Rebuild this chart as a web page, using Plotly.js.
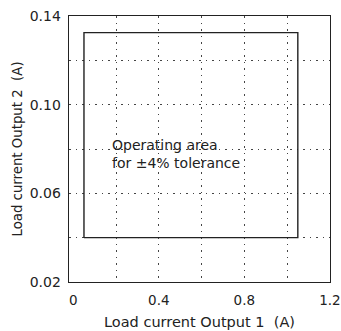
<!DOCTYPE html>
<html>
<head>
<meta charset="utf-8">
<script src="https://cdn.plot.ly/plotly-3.0.1.min.js"></script>
<style>html,body{margin:0;padding:0;background:#fff;}#chart{width:341px;height:331px;}</style>
</head>
<body>
<div id="chart"></div>
<script>
// Operating area boundary (Output 1 current, Output 2 current)
const areaX = [0.05, 1.05, 1.05, 0.05, 0.05];
const areaY = [0.04, 0.04, 0.1325, 0.1325, 0.04];
const xTickVals = [0, 0.2, 0.4, 0.6, 0.8, 1.0, 1.2];
const xTickText = ['0', '', '0.4', '', '0.8', '', '1.2'];
const yTickVals = [0.02, 0.04, 0.06, 0.08, 0.10, 0.12, 0.14];
const yTickText = ['0.02', '', '0.06', '', '0.10', '', '0.14'];
const labelText = 'Operating area<br>for ±4% tolerance';
const labelPos = {x: 0.17, y: 0.0778};

const font = 'DejaVu Sans, sans-serif';
const ink = '#222';

const trace = {
  x: areaX, y: areaY, type: 'scatter', mode: 'lines',
  line: {color: ink, width: 1.4}, hoverinfo: 'skip', showlegend: false
};

const layout = {
  width: 341, height: 331,
  margin: {l: 69, r: 11, t: 16, b: 49},
  paper_bgcolor: '#fff', plot_bgcolor: '#fff',
  font: {family: font, color: ink, size: 14},
  xaxis: {
    range: [-0.02, 1.2005], tickvals: xTickVals, ticktext: xTickText,
    showgrid: true, gridcolor: '#444', gridwidth: 1, griddash: '1.5px,5px',
    zeroline: true, zerolinecolor: 'rgba(0,0,0,0)', zerolinewidth: 1,
    showline: true, linecolor: ink, linewidth: 1.4, mirror: true,
    ticks: '', ticklabelstandoff: 5, ticklabeloverflow: 'allow',
    tickfont: {family: font, size: 13.5, color: ink},
    title: {text: 'Load current Output 1  (A)', font: {family: font, size: 14.5, color: ink}, standoff: 10},
    automargin: false, fixedrange: true
  },
  yaxis: {
    range: [0.02, 0.14], tickvals: yTickVals, ticktext: yTickText,
    showgrid: true, gridcolor: '#444', gridwidth: 1, griddash: '1.5px,5px',
    zeroline: false,
    showline: true, linecolor: ink, linewidth: 1.4, mirror: true,
    ticks: '', ticklabelstandoff: 4, ticklabeloverflow: 'allow',
    tickfont: {family: font, size: 14, color: ink},
    title: {text: 'Load current Output 2  (A)', font: {family: font, size: 13.3, color: ink}, standoff: 4},
    automargin: false, fixedrange: true
  },
  annotations: [{
    x: labelPos.x, y: labelPos.y, xref: 'x', yref: 'y', text: labelText,
    showarrow: false, xanchor: 'left', yanchor: 'middle', align: 'left',
    font: {family: font, size: 14, color: ink}
  }]
};

Plotly.newPlot('chart', [trace], layout, {displayModeBar: false, staticPlot: true});
</script>
</body>
</html>
